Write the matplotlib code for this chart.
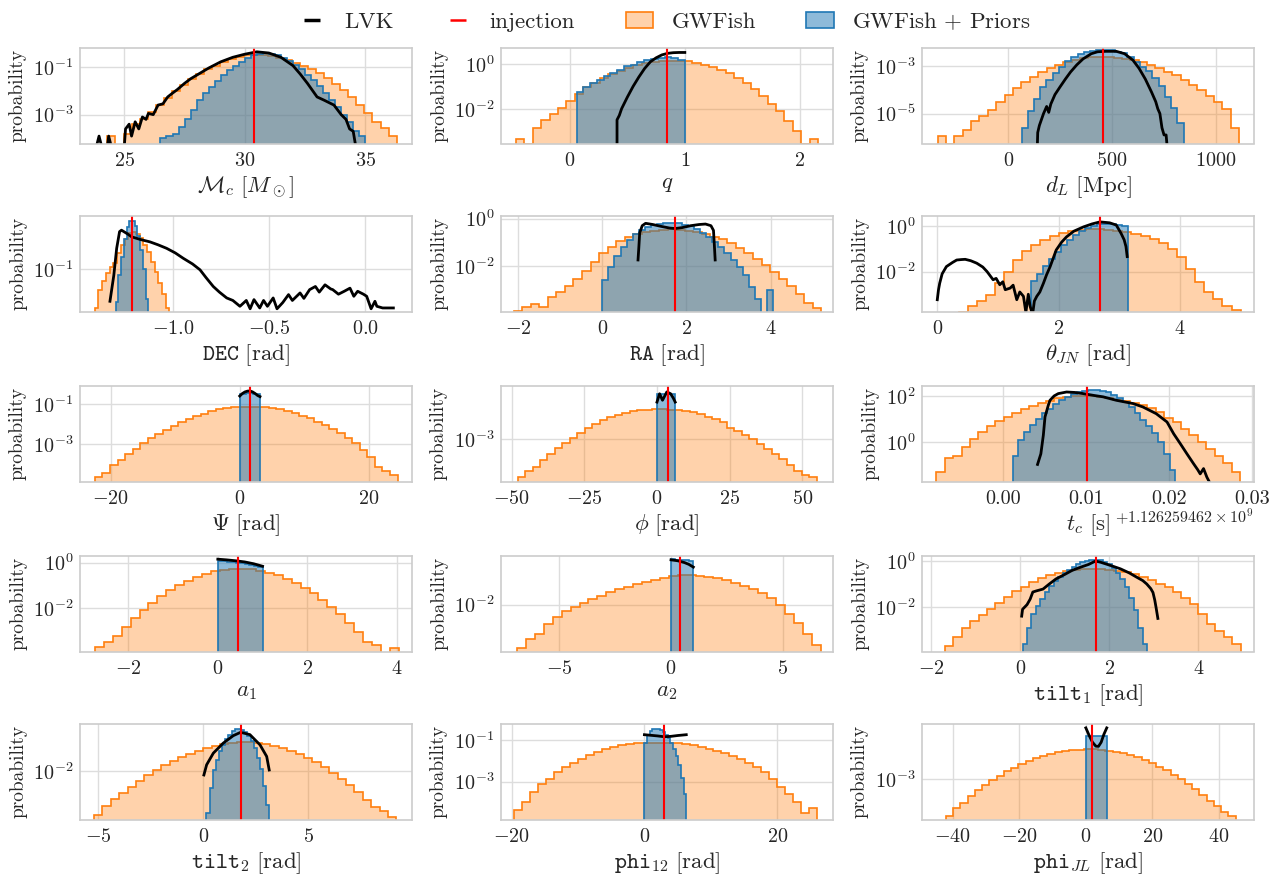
import numpy as np
import matplotlib
matplotlib.use("Agg")
import matplotlib.pyplot as plt
from matplotlib.lines import Line2D
from matplotlib.patches import Patch
from matplotlib.colors import to_rgba
from matplotlib.ticker import NullLocator, FormatStrFormatter

# ---------------------------------------------------------------
# values; histogram heights are log10(probability)
# ---------------------------------------------------------------
mc_gwfish_range = (24.3, 36.3)
mc_gwfish = [-3.9, -4.3, -3.8, -3.4, -3.2, -2.9, -2.6, -2.3, -2.0, -1.75, -1.5, -1.3,
             -1.1, -0.95, -0.8, -0.68, -0.58, -0.52, -0.5, -0.5, -0.55, -0.62, -0.72,
             -0.85, -0.98, -1.1, -1.25, -1.45, -1.7, -1.95, -2.25, -2.6, -2.95, -3.3,
             -3.55, -3.9]
mc_priors_range = (26.5, 35.0)
mc_priors = [-4.0, -3.9, -3.8, -3.5, -3.2, -2.8, -2.4, -2.1, -1.85, -1.6, -1.35, -1.15,
             -0.95, -0.78, -0.62, -0.52, -0.46, -0.44, -0.46, -0.52, -0.62, -0.75, -0.92,
             -1.1, -1.32, -1.55, -1.8, -2.1, -2.4, -2.7, -3.0, -3.3, -3.7, -3.9]
mc_lvk_x = [23.85, 23.95, 24.05, 24.3, 24.35, 24.45, 25.0, 25.05, 25.2, 25.3, 25.45, 25.6,
            25.75, 25.9, 26.0, 26.2, 26.4, 26.6, 26.8, 27.0, 27.2, 27.5, 27.75, 28.0, 28.5,
            29.0, 29.5, 30.0, 30.5, 31.0, 31.5, 32.0, 32.3, 32.6, 33.0, 33.3, 33.7, 34.0,
            34.2, 34.35, 34.5, 34.6]
mc_lvk = [-4.3, -3.9, -4.3, -4.3, -3.9, -4.3, -4.3, -3.6, -3.4, -3.9, -3.3, -3.6, -3.1,
          -3.2, -2.95, -3.0, -2.6, -2.55, -2.26, -2.1, -1.95, -1.69, -1.5, -1.35, -1.05,
          -0.79, -0.6, -0.47, -0.37, -0.42, -0.6, -0.95, -1.3, -1.69, -2.26, -2.4, -2.6,
          -3.0, -3.2, -3.6, -3.7, -4.3]
mc_injection = 30.37

q_gwfish_range = (-0.47, 2.16)
q_gwfish = [-3.35, -3.6, -2.85, -2.5, -2.25, -1.95, -1.65, -1.33, -1.05, -0.83, -0.62,
            -0.45, -0.3, -0.17, -0.06, 0.04, 0.1, 0.14, 0.15, 0.14, 0.12, 0.06, -0.03,
            -0.14, -0.26, -0.42, -0.62, -0.87, -1.12, -1.42, -1.8, -2.1, -2.55, -3.0,
            -3.6, -3.35]
q_priors_range = (0.058, 1.0)
q_priors = [-1.25, -1.05, -0.86, -0.7, -0.52, -0.38, -0.25, -0.1, -0.02, 0.1, 0.17, 0.24,
            0.28, 0.3, 0.28, 0.2]
q_lvk_x = [0.41, 0.41, 0.43, 0.45, 0.5, 0.55, 0.6, 0.65, 0.7, 0.75, 0.8, 0.85, 0.9, 0.95, 1.0]
q_lvk = [-4.0, -2.5, -2.3, -2.0, -1.48, -1.0, -0.58, -0.2, 0.1, 0.28, 0.41, 0.48, 0.51,
         0.52, 0.52]
q_injection = 0.848

dl_gwfish_range = (-340, 1112)
dl_gwfish = [-5.95, -6.3, -5.95, -5.7, -5.3, -5.1, -4.83, -4.51, -4.2, -3.93, -3.68,
             -3.46, -3.26, -3.09, -2.94, -2.83, -2.73, -2.67, -2.63, -2.61, -2.62, -2.66,
             -2.72, -2.76, -2.85, -2.95, -3.08, -3.23, -3.39, -3.58, -3.79, -4.01, -4.25,
             -4.52, -4.8, -5.6]
dl_priors_range = (64, 844)
dl_priors = [-5.6, -4.9, -4.4, -3.87, -3.6, -3.3, -3.05, -2.8, -2.62, -2.5, -2.42, -2.36,
             -2.33, -2.32, -2.34, -2.39, -2.47, -2.62, -2.82, -3.02, -3.22, -3.5, -3.85,
             -4.3, -4.75, -5.4]
dl_lvk_x = [140, 142, 150, 170, 185, 195, 205, 225, 250, 275, 300, 330, 360, 400, 430, 470,
            520, 560, 600, 630, 660, 690, 710, 720, 730, 740, 750, 760, 765]
dl_lvk = [-6.4, -5.8, -5.5, -5.0, -4.7, -4.95, -4.6, -4.2, -3.87, -3.55, -3.25, -2.95,
          -2.7, -2.48, -2.4, -2.38, -2.38, -2.48, -2.75, -3.1, -3.55, -4.1, -4.5, -4.8,
          -5.0, -5.6, -5.9, -5.9, -6.4]
dl_injection = 454

dec_gwfish_range = (-1.41, -1.02)
dec_gwfish = [-2.86, -2.0, -1.57, -1.2, -0.91, -0.71, -0.23, 0.14, 0.43, 0.74, 0.8, 0.69,
              0.49, 0.14, -0.2, -0.66, -1.14, -1.66, -2.2, -2.86]
dec_priors_range = (-1.30, -1.13)
dec_priors = [-2.57, -1.29, -0.43, 0.43, 1.0, 1.29, 1.29, 1.06, 0.57, -0.09, -1.0, -2.43]
dec_lvk_x = [-1.33, -1.31, -1.295, -1.28, -1.27, -1.24, -1.217, -1.17, -1.122, -1.08,
             -1.035, -0.99, -0.948, -0.90, -0.861, -0.83, -0.792, -0.76, -0.722, -0.69,
             -0.653, -0.62, -0.60, -0.58, -0.55, -0.53, -0.51, -0.48, -0.46, -0.43, -0.40,
             -0.38, -0.34, -0.32, -0.29, -0.26, -0.24, -0.21, -0.18, -0.17, -0.14, -0.11,
             -0.08, -0.06, -0.04, -0.01, 0.007, 0.03, 0.05, 0.06, 0.09, 0.12, 0.146]
dec_lvk = [-2.54, -1.3, 0.0, 0.8, 0.87, 0.7, 0.55, 0.42, 0.31, 0.17, 0.0, -0.22, -0.48,
           -0.75, -1.03, -1.4, -1.83, -2.1, -2.38, -2.5, -2.78, -2.5, -2.9, -2.46, -2.86,
           -2.5, -2.78, -2.38, -2.9, -2.6, -2.22, -2.5, -2.14, -2.4, -1.98, -1.83, -2.1,
           -1.75, -1.95, -1.98, -2.2, -2.06, -1.91, -2.3, -2.06, -2.2, -2.3, -2.9, -2.54,
           -2.78, -2.86, -2.86, -2.86]
dec_injection = -1.2135

ra_gwfish_range = (-2.1, 5.2)
ra_gwfish = [-3.9, -3.75, -3.6, -3.75, -3.3, -3.1, -2.85, -2.55, -2.2, -1.85, -1.45,
             -1.2, -0.95, -0.77, -0.65, -0.58, -0.52, -0.48, -0.46, -0.48, -0.52, -0.58,
             -0.66, -0.76, -0.88, -1.05, -1.25, -1.45, -1.7, -1.95, -2.25, -2.55, -2.85,
             -3.2, -3.55, -3.8]
ra_priors_range = (0.0, 4.06)
ra_priors = [-2.6, -2.05, -1.6, -1.2, -0.9, -0.66, -0.48, -0.36, -0.27, -0.22, -0.19,
             -0.18, -0.2, -0.25, -0.33, -0.45, -0.6, -0.78, -0.98, -1.2, -1.45, -1.75,
             -2.05, -2.4, -2.9, -3.4, -4.2, -3.0]
ra_lvk_x = [0.85, 0.87, 0.89, 0.95, 1.03, 1.2, 1.4, 1.6, 1.73, 1.9, 2.1, 2.3, 2.45, 2.58,
            2.64, 2.66, 2.68]
ra_lvk = [-1.75, -1.2, -0.6, -0.3, -0.2, -0.25, -0.33, -0.4, -0.42, -0.38, -0.3, -0.25,
          -0.23, -0.3, -0.5, -1.1, -1.75]
ra_injection = 1.734

th_gwfish_range = (0.35, 5.0)
th_gwfish = [-3.8, -3.5, -3.3, -3.05, -2.5, -2.0, -1.5, -1.1, -0.85, -0.6, -0.42, -0.28,
             -0.2, -0.16, -0.145, -0.145, -0.16, -0.2, -0.26, -0.33, -0.42, -0.55, -0.75,
             -1.0, -1.35, -1.9, -2.45, -2.9, -3.2, -3.5, -3.7]
th_priors_range = (1.54, 3.14)
th_priors = [-2.4, -2.1, -1.75, -1.45, -1.15, -0.85, -0.6, -0.4, -0.22, -0.08, 0.02, 0.08,
             0.11, 0.1, 0.06, 0.0]
th_lvk_x = [0.0, 0.02, 0.04, 0.08, 0.15, 0.25, 0.32, 0.4, 0.46, 0.55, 0.65, 0.75, 0.82,
            0.92, 0.97, 1.03, 1.08, 1.12, 1.2, 1.25, 1.31, 1.36, 1.42, 1.46, 1.5, 1.53,
            1.57, 1.6, 1.64, 1.69, 1.75, 1.8, 1.86, 1.96, 2.05, 2.13, 2.25, 2.41, 2.55,
            2.68, 2.84, 2.95, 3.03, 3.08, 3.11, 3.13]
th_lvk = [-3.24, -2.8, -2.51, -2.1, -1.78, -1.6, -1.49, -1.47, -1.46, -1.52, -1.63, -1.8,
          -2.0, -2.36, -2.3, -2.58, -2.45, -2.8, -2.73, -2.6, -3.24, -2.9, -3.09, -3.8,
          -3.0, -3.53, -3.9, -3.3, -3.09, -2.9, -2.51, -2.15, -1.78, -1.05, -0.7, -0.47,
          -0.22, -0.03, 0.1, 0.19, 0.15, 0.05, -0.32, -0.6, -0.9, -1.34]
th_injection = 2.69

psi_gwfish_range = (-22.5, 24.5)
psi_gwfish = [-4.6, -4.4, -4.0, -3.75, -3.45, -3.2, -2.95, -2.7, -2.5, -2.3, -2.1, -1.9,
              -1.75, -1.6, -1.48, -1.37, -1.28, -1.22, -1.18, -1.16, -1.15, -1.16, -1.18,
              -1.22, -1.28, -1.36, -1.46, -1.58, -1.72, -1.88, -2.05, -2.25, -2.45, -2.7,
              -2.95, -3.25, -3.6, -4.1, -4.3, -4.5]
psi_priors_range = (0.0, 3.1416)
psi_priors = [-0.52, -0.5, -0.49, -0.49, -0.5, -0.52]
psi_lvk_x = [0.0, 0.4, 0.8, 1.2, 1.6, 2.0, 2.4, 2.8, 3.14]
psi_lvk = [-0.62, -0.5, -0.42, -0.38, -0.37, -0.42, -0.5, -0.6, -0.65]
psi_injection = 1.52

phi_gwfish_range = (-48.0, 55.0)
phi_gwfish = [-4.9, -4.6, -4.4, -4.05, -3.75, -3.45, -3.2, -2.95, -2.7, -2.47, -2.27,
              -2.1, -1.95, -1.82, -1.72, -1.65, -1.6, -1.57, -1.56, -1.56, -1.57, -1.6,
              -1.64, -1.7, -1.8, -1.92, -2.05, -2.2, -2.45, -2.62, -2.82, -3.02, -3.25,
              -3.5, -3.75, -4.0, -4.3, -4.6, -4.8, -4.9]
phi_priors_range = (0.0, 6.2832)
phi_priors = [-0.82, -0.8, -0.8, -0.8, -0.82]
phi_lvk_x = [0.0, 0.9, 1.9, 3.4, 4.7, 5.6, 6.28]
phi_lvk = [-1.2, -0.79, -1.11, -0.7, -0.79, -1.0, -1.2]
phi_injection = 3.7

tc_gwfish_range = (-0.008, 0.0286)
tc_gwfish = [-1.3, -0.7, -0.6, -0.2, 0.15, 0.45, 0.7, 0.92, 1.1, 1.27, 1.42, 1.55, 1.68,
             1.8, 1.9, 1.96, 1.99, 2.0, 1.99, 1.96, 1.9, 1.82, 1.78, 1.7, 1.6, 1.47, 1.3,
             1.05, 0.85, 0.55, 0.3, 0.0, -0.3, -0.6, -0.9, -1.3]
tc_priors_range = (0.0012, 0.0208)
tc_priors = [-0.6, 0.1, 0.45, 0.75, 1.0, 1.25, 1.45, 1.65, 1.82, 1.96, 2.07, 2.15, 2.21,
             2.24, 2.25, 2.22, 2.15, 2.05, 1.9, 1.72, 1.5, 1.25, 0.95, 0.7, 0.4, 0.0, -0.5,
             -1.2]
tc_lvk_x = [0.0042, 0.0046, 0.0049, 0.0051, 0.0055, 0.0057, 0.0062, 0.0067, 0.0077,
            0.0087, 0.0097, 0.011, 0.0121, 0.0137, 0.0157, 0.0169, 0.0185, 0.0198, 0.0206,
            0.0214, 0.0222, 0.023, 0.0235, 0.0238, 0.0242, 0.0246, 0.025]
tc_lvk = [-0.97, -0.51, 0.3, 1.09, 1.6, 1.81, 2.0, 2.1, 2.17, 2.15, 2.1, 2.02, 1.96, 1.81,
          1.67, 1.52, 1.23, 0.87, 0.36, -0.07, -0.51, -0.94, -1.2, -1.38, -1.15, -1.52, -1.8]
tc_injection = 0.01012
tc_offset = r"$+1.126259462\times10^{9}$"

a1_gwfish_range = (-2.75, 4.05)
a1_gwfish = [-3.7, -3.5, -3.2, -2.84, -2.45, -2.1, -1.77, -1.48, -1.22, -0.99, -0.79,
             -0.63, -0.49, -0.39, -0.32, -0.28, -0.27, -0.29, -0.35, -0.44, -0.55, -0.7,
             -0.89, -1.1, -1.34, -1.62, -1.93, -2.27, -2.64, -3.04, -3.48, -3.6, -3.95,
             -3.75]
a1_priors_range = (0.0, 1.0)
a1_priors = [0.06, 0.05, 0.03, 0.02, 0.0, -0.02, -0.05, -0.09, -0.14, -0.2]
a1_lvk_x = [0.0, 0.2, 0.4, 0.6, 0.8, 1.0]
a1_lvk = [0.15, 0.12, 0.08, 0.03, -0.05, -0.16]
a1_injection = 0.46

a2_gwfish_range = (-6.9, 6.7)
a2_gwfish = [-3.9, -3.5, -3.3, -2.85, -2.55, -2.3, -2.1, -1.92, -1.75, -1.6, -1.45,
             -1.32, -1.2, -1.09, -0.99, -0.9, -0.82, -0.75, -0.71, -0.7, -0.72, -0.76,
             -0.83, -0.92, -1.03, -1.16, -1.32, -1.5, -1.72, -2.0, -2.4, -2.8, -3.3, -3.8]
a2_priors_range = (0.0, 1.0)
a2_priors = [0.0, -0.01, -0.02, -0.03, -0.05]
a2_lvk_x = [0.0, 0.3, 0.6, 0.8, 1.0]
a2_lvk = [-0.02, -0.06, -0.14, -0.22, -0.34]
a2_injection = 0.39

t1_gwfish_range = (-1.7, 4.95)
t1_gwfish = [-3.7, -3.3, -2.9, -2.62, -2.35, -2.1, -1.82, -1.55, -1.32, -1.12, -0.93,
             -0.76, -0.62, -0.5, -0.42, -0.37, -0.34, -0.33, -0.34, -0.37, -0.42, -0.49,
             -0.58, -0.7, -0.83, -0.98, -1.15, -1.35, -1.6, -1.87, -2.3, -2.75, -3.05,
             -3.3, -3.6]
t1_priors_range = (0.05, 2.85)
t1_priors = [-3.6, -2.9, -2.3, -1.95, -1.65, -1.35, -1.1, -0.88, -0.68, -0.52, -0.38,
             -0.24, -0.12, -0.04, 0.02, 0.05, 0.06, 0.04, -0.02, -0.12, -0.3, -0.52, -0.8,
             -1.15, -1.6, -2.15, -2.9, -3.6]
t1_lvk_x = [0.03, 0.05, 0.15, 0.22, 0.28, 0.36, 0.51, 0.65, 0.8, 1.0, 1.16, 1.35, 1.53,
            1.69, 1.8, 1.96, 2.1, 2.25, 2.45, 2.62, 2.75, 2.84, 2.93, 2.98, 3.02, 3.05, 3.09]
t1_lvk = [-2.4, -2.1, -1.9, -1.66, -1.35, -1.3, -1.22, -1.0, -0.78, -0.58, -0.41, -0.27,
          -0.15, 0.0, -0.05, -0.15, -0.24, -0.34, -0.52, -0.71, -0.85, -1.0, -1.2, -1.37,
          -1.7, -2.03, -2.5]
t1_injection = 1.69

t2_gwfish_range = (-5.2, 9.2)
t2_gwfish = [-4.1, -3.65, -3.35, -3.05, -2.75, -2.45, -2.2, -1.95, -1.72, -1.5, -1.3,
             -1.15, -1.02, -0.9, -0.8, -0.7, -0.64, -0.61, -0.61, -0.64, -0.7, -0.78, -0.89,
             -1.02, -1.18, -1.37, -1.57, -1.8, -2.1, -2.35, -2.66, -3.0, -3.4, -3.7, -3.9,
             -4.2]
t2_priors_range = (0.15, 3.15)
t2_priors = [-4.0, -2.8, -1.95, -1.45, -1.05, -0.72, -0.45, -0.24, -0.08, 0.02, 0.03,
             -0.02, -0.12, -0.3, -0.55, -0.9, -1.35, -1.9, -2.7, -3.6]
t2_lvk_x = [0.03, 0.16, 0.48, 0.95, 1.43, 1.78, 2.22, 2.7, 3.02, 3.14]
t2_lvk = [-2.18, -1.69, -1.13, -0.65, -0.29, -0.13, -0.24, -0.73, -1.29, -1.94]
t2_injection = 1.78

p12_gwfish_range = (-19.6, 26.0)
p12_gwfish = [-4.4, -4.0, -3.5, -3.1, -2.85, -2.55, -2.3, -2.1, -1.9, -1.72, -1.56,
              -1.43, -1.32, -1.23, -1.17, -1.13, -1.11, -1.1, -1.1, -1.11, -1.13, -1.17,
              -1.22, -1.3, -1.4, -1.5, -1.6, -1.75, -1.9, -2.08, -2.3, -2.55, -2.85, -3.25,
              -3.6, -4.0, -4.5, -4.3]
p12_priors_range = (0.0, 6.2832)
p12_priors = [-1.1, -0.75, -0.55, -0.45, -0.42, -0.44, -0.5, -0.6, -0.72, -0.88, -1.1,
              -1.4, -1.75, -2.2, -2.8, -3.6]
p12_lvk_x = [0.0, 1.0, 2.0, 3.0, 4.0, 5.0, 6.3]
p12_lvk = [-0.72, -0.75, -0.78, -0.82, -0.8, -0.76, -0.72]
p12_injection = 2.95

pjl_gwfish_range = (-42.0, 45.0)
pjl_gwfish = [-4.9, -4.5, -4.2, -3.85, -3.55, -3.3, -3.05, -2.82, -2.6, -2.4, -2.22,
              -2.06, -1.92, -1.8, -1.7, -1.62, -1.56, -1.51, -1.48, -1.47, -1.47, -1.49,
              -1.53, -1.58, -1.66, -1.76, -1.88, -2.02, -2.18, -2.35, -2.55, -2.77, -3.0,
              -3.25, -3.52, -3.8, -4.1, -4.4, -4.7, -4.9]
pjl_priors_range = (0.0, 6.2832)
pjl_priors = [-0.78, -0.8, -0.8, -0.78]
pjl_lvk_x = [0.0, 1.0, 2.0, 3.0, 3.8, 4.6, 5.4, 6.28]
pjl_lvk = [-0.36, -0.75, -1.1, -1.3, -1.31, -1.1, -0.7, -0.36]
pjl_injection = 1.8

# ---------------------------------------------------------------
ORANGE = "#ff7f0e"
BLUE = "#1f77b4"

plt.rcParams.update({
    "font.family": "serif",
    "font.serif": ["cmr10"],
    "mathtext.fontset": "cm",
    "axes.formatter.use_mathtext": True,
    "axes.edgecolor": "#cccccc",
    "axes.linewidth": 1.2,
    "axes.grid": True,
    "axes.axisbelow": True,
    "grid.color": "#dddddd",
    "grid.linewidth": 1.0,
    "xtick.major.size": 0,
    "ytick.major.size": 0,
    "xtick.minor.size": 0,
    "ytick.minor.size": 0,
    "xtick.major.pad": 6,
    "ytick.major.pad": 5,
    "xtick.labelsize": 14.5,
    "ytick.labelsize": 14.5,
    "text.color": "#262626",
    "axes.labelcolor": "#262626",
    "xtick.color": "#262626",
    "ytick.color": "#262626",
})

# (gwfish, priors, lvk, injection, xlabel, xlim, log ylim, xticks, log yticks)
panels = [
    ((mc_gwfish_range, mc_gwfish), (mc_priors_range, mc_priors), (mc_lvk_x, mc_lvk),
     mc_injection, r"$\mathcal{M}_c\ [M_\odot]$", (23.16, 36.94), (-4.21, -0.21),
     [25, 30, 35], [-3, -1]),
    ((q_gwfish_range, q_gwfish), (q_priors_range, q_priors), (q_lvk_x, q_lvk),
     q_injection, r"$q$", (-0.60, 2.29), (-3.56, 0.72), [0, 1, 2], [-2, 0]),
    ((dl_gwfish_range, dl_gwfish), (dl_priors_range, dl_priors), (dl_lvk_x, dl_lvk),
     dl_injection, r"$d_L\ [\mathrm{Mpc}]$", (-415, 1183), (-6.26, -2.24),
     [0, 500, 1000], [-5, -3]),
    ((dec_gwfish_range, dec_gwfish), (dec_priors_range, dec_priors), (dec_lvk_x, dec_lvk),
     dec_injection, r"$\mathtt{DEC}\ [\mathrm{rad}]$", (-1.486, 0.243), (-3.03, 1.55),
     [-1.0, -0.5, 0.0], [-1]),
    ((ra_gwfish_range, ra_gwfish), (ra_priors_range, ra_priors), (ra_lvk_x, ra_lvk),
     ra_injection, r"$\mathtt{RA}\ [\mathrm{rad}]$", (-2.40, 5.475), (-3.93, 0.11),
     [-2, 0, 2, 4], [-2, 0]),
    ((th_gwfish_range, th_gwfish), (th_priors_range, th_priors), (th_lvk_x, th_lvk),
     th_injection, r"$\theta_{JN}\ [\mathrm{rad}]$", (-0.252, 5.22), (-3.76, 0.45),
     [0, 2, 4], [-2, 0]),
    ((psi_gwfish_range, psi_gwfish), (psi_priors_range, psi_priors), (psi_lvk_x, psi_lvk),
     psi_injection, r"$\Psi\ [\mathrm{rad}]$", (-24.8, 26.74), (-4.82, -0.128),
     [-20, 0, 20], [-3, -1]),
    ((phi_gwfish_range, phi_gwfish), (phi_priors_range, phi_priors), (phi_lvk_x, phi_lvk),
     phi_injection, r"$\phi\ [\mathrm{rad}]$", (-53.7, 60.6), (-5.10, -0.41),
     [-50, -25, 0, 25, 50], [-3]),
    ((tc_gwfish_range, tc_gwfish), (tc_priors_range, tc_priors), (tc_lvk_x, tc_lvk),
     tc_injection, r"$t_c\ [\mathrm{s}]$", (-0.00972, 0.03028), (-1.71, 2.43),
     [0.0, 0.01, 0.02, 0.03], [0, 2]),
    ((a1_gwfish_range, a1_gwfish), (a1_priors_range, a1_priors), (a1_lvk_x, a1_lvk),
     a1_injection, r"$a_1$", (-3.08, 4.34), (-3.9, 0.29), [-2, 0, 2, 4], [-2, 0]),
    ((a2_gwfish_range, a2_gwfish), (a2_priors_range, a2_priors), (a2_lvk_x, a2_lvk),
     a2_injection, r"$a_2$", (-7.62, 7.26), (-4.07, 0.15), [-5, 0, 5], [-2]),
    ((t1_gwfish_range, t1_gwfish), (t1_priors_range, t1_priors), (t1_lvk_x, t1_lvk),
     t1_injection, r"$\mathtt{tilt}_1\ [\mathrm{rad}]$", (-2.21, 5.25), (-3.94, 0.22),
     [-2, 0, 2, 4], [-2, 0]),
    ((t2_gwfish_range, t2_gwfish), (t2_priors_range, t2_priors), (t2_lvk_x, t2_lvk),
     t2_injection, r"$\mathtt{tilt}_2\ [\mathrm{rad}]$", (-5.87, 9.94), (-4.32, 0.27),
     [-5, 0, 5], [-2]),
    ((p12_gwfish_range, p12_gwfish), (p12_priors_range, p12_priors), (p12_lvk_x, p12_lvk),
     p12_injection, r"$\mathtt{phi}_{12}\ [\mathrm{rad}]$", (-21.6, 28.4), (-4.84, -0.2),
     [-20, 0, 20], [-3, -1]),
    ((pjl_gwfish_range, pjl_gwfish), (pjl_priors_range, pjl_priors), (pjl_lvk_x, pjl_lvk),
     pjl_injection, r"$\mathtt{phi}_{JL}\ [\mathrm{rad}]$", (-49.2, 50.5), (-5.07, -0.16),
     [-40, -20, 0, 20, 40], [-3]),
]

W, H = 1278, 875
fig = plt.figure(figsize=(W / 100, H / 100), dpi=100)

col_left = [80, 501, 922]
row_top = [48, 216, 386, 556, 724]
ax_w, ax_h = 332, 95.5


def draw(ax, p):
    gw, pr, lvk, inj, xlabel, xlim, ylim, xticks, yticks = p
    base = 10.0 ** (ylim[0] - 3)
    for (rng, vals), color, alpha in ((gw, ORANGE, 0.35), (pr, BLUE, 0.5)):
        h = 10.0 ** np.asarray(vals, dtype=float)
        edges = np.linspace(rng[0], rng[1], len(h) + 1)
        ax.stairs(h, edges, baseline=base, fill=True, facecolor=to_rgba(color, alpha),
                  edgecolor="none", lw=0)
        ax.stairs(h, edges, baseline=base, color=color, lw=1.2)
    ax.plot(lvk[0], 10.0 ** np.asarray(lvk[1]), color="k", lw=2.0)
    ax.axvline(inj, color="red", lw=1.5)
    ax.set_yscale("log")
    ax.set_xlim(*xlim)
    ax.set_ylim(10.0 ** ylim[0], 10.0 ** ylim[1])
    ax.set_xticks(xticks)
    ax.set_yticks([10.0 ** k for k in yticks])
    ax.yaxis.set_minor_locator(NullLocator())
    ax.set_xlabel(xlabel, fontsize=16.5, labelpad=3)
    ax.set_ylabel("probability", fontsize=14)


for i, p in enumerate(panels):
    r, c = divmod(i, 3)
    ax = fig.add_axes([col_left[c] / W, (H - row_top[r] - ax_h) / H, ax_w / W, ax_h / H])
    draw(ax, p)
    if i == 8:
        ax.xaxis.set_major_formatter(FormatStrFormatter("%.2f"))
        ax.text(1.0, -0.37, tc_offset, transform=ax.transAxes, ha="right", va="center",
                fontsize=11.5)

handles = [
    Line2D([], [], color="k", marker="_", ls="None", ms=11, mew=2.5),
    Line2D([], [], color="red", marker="_", ls="None", ms=11, mew=1.8),
    Patch(facecolor=to_rgba(ORANGE, 0.35), edgecolor=ORANGE, lw=1.2),
    Patch(facecolor=to_rgba(BLUE, 0.5), edgecolor=BLUE, lw=1.2),
]
fig.legend(handles, ["LVK", "injection", "GWFish", r"GWFish$\,+\,$Priors"],
           loc="upper center", bbox_to_anchor=(0.52, 1.012), ncol=4, frameon=False,
           fontsize=16.5, columnspacing=2.2, handlelength=1.2, handletextpad=0.8)

fig.savefig("out.png", dpi=100)
